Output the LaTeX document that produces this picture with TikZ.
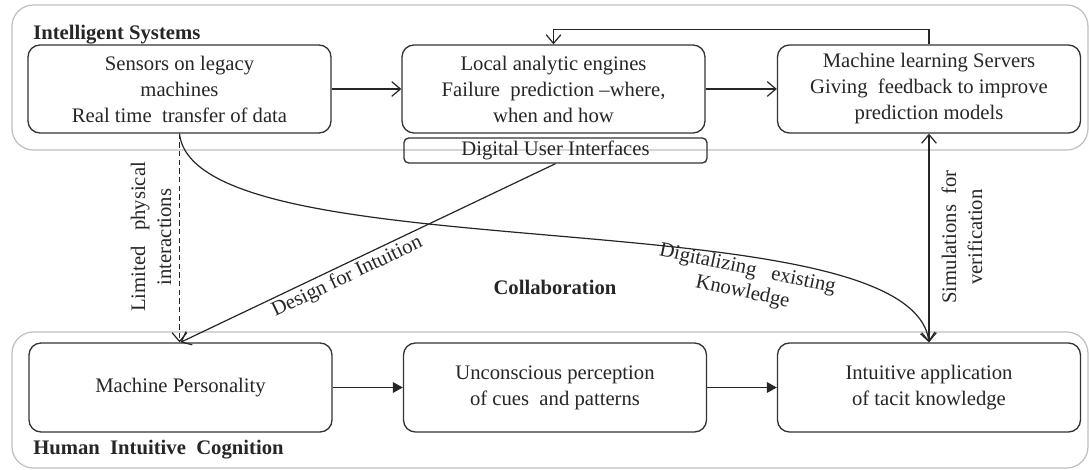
\documentclass[tikz,border=0pt]{standalone}
\usepackage{fontspec}
\setmainfont{Liberation Serif}
\usetikzlibrary{arrows.meta}
\begin{document}
\begin{tikzpicture}[x=0.75pt,y=-0.75pt,
  every node/.style={text=black!85},
  txt/.style={font=\fontsize{15.5}{19.5}\selectfont},
  bold/.style={font=\fontsize{15.5}{19.5}\selectfont\bfseries},
  groupbox/.style={draw=black!25,line width=0.9pt,rounded corners=16pt},
  procbox/.style={draw=black!80,line width=1pt,rounded corners=9pt,
    minimum width=227.25pt,minimum height=66pt,align=center,inner sep=2pt,
    font=\fontsize{15.5}{19.5}\selectfont},
  uibox/.style={draw=black!80,line width=1pt,rounded corners=3.5pt,
    minimum width=227.25pt,minimum height=18.75pt,inner sep=0pt,
    font=\fontsize{15.5}{19.5}\selectfont},
  conn/.style={draw=black!85,line width=0.9pt},
  openarrow/.style={conn,-{Straight Barb[length=6.5pt,width=11pt]}},
  bothopen/.style={conn,{Straight Barb[length=6.5pt,width=11pt]}-{Straight Barb[length=6.5pt,width=11pt]}},
  fillarrow/.style={conn,-{Triangle[length=7.5pt,width=8pt]}},
  vlabel/.style={txt,rotate=90,align=center,inner sep=0pt}
]
\useasboundingbox[fill=white] (0,0) rectangle (1089,470);
% groups
\draw[groupbox] (12,5) rectangle (1088,150);
\draw[groupbox] (12,332) rectangle (1088,468);
\node[bold,anchor=base west,inner sep=0pt] (isys) at (33,40) {Intelligent Systems};
\node[bold,anchor=base west,inner sep=0pt] (hic) at (33,454) {Human\ \ Intuitive\ \ Cognition};
\node[bold] (collab) at (555,287) {Collaboration};
% boxes
\node[procbox] (A) at (179.5,89) {Sensors on legacy\\machines\\Real time\ \ transfer of data};
\node[procbox] (B) at (553.5,89) {Local analytic engines\\Failure\ \ prediction --where,\\when and how};
\node[procbox] (C) at (929,89) {Machine learning Servers\\Giving\ \ feedback to improve\\prediction models};
\node[uibox] (UI) at (555.5,150.5) {Digital User Interfaces};
\node[procbox,minimum height=66.75pt] (D) at (180.5,387.5) {Machine Personality};
\node[procbox,minimum height=66.75pt] (E) at (555,387.5) {Unconscious perception\\of cues\ \ and patterns};
\node[procbox,minimum height=66.75pt] (F) at (929,387.5) {Intuitive application\\of tacit knowledge};
% connectors
\draw[openarrow] (A.east) -- (B.west);
\draw[openarrow] (B.east) -- (C.west);
\draw[openarrow] (C.north) -- ++(0,-15) -| (B.north);
\draw[fillarrow] (D.east) -- (E.west);
\draw[fillarrow] (E.east) -- (F.west);
\draw[openarrow,dashed,dash pattern=on 4pt off 2.5pt] (A.south) -- (A.south |- D.north);
\node[vlabel] (limlab) at (151,237) {Limited\ \ \ physical\\interactions};
\draw[openarrow] (A.south) .. controls (195,275) and (910,195) .. (F.north);
\node[txt,rotate=-12,align=center,inner sep=0pt,font=\fontsize{15.5}{17.5}\selectfont] (diglab) at (745,281) {Digitalizing\ \ \ existing\\Knowledge};
\draw[openarrow] (UI.south) -- node[txt,sloped,below,pos=0.57,inner sep=2pt] (deslab) {Design for Intuition} (D.north);
\draw[bothopen] (C.south) -- (F.north);
\node[vlabel] (simlab) at (962,237) {Simulations\ \ for\\verification};
\end{tikzpicture}
\end{document}
